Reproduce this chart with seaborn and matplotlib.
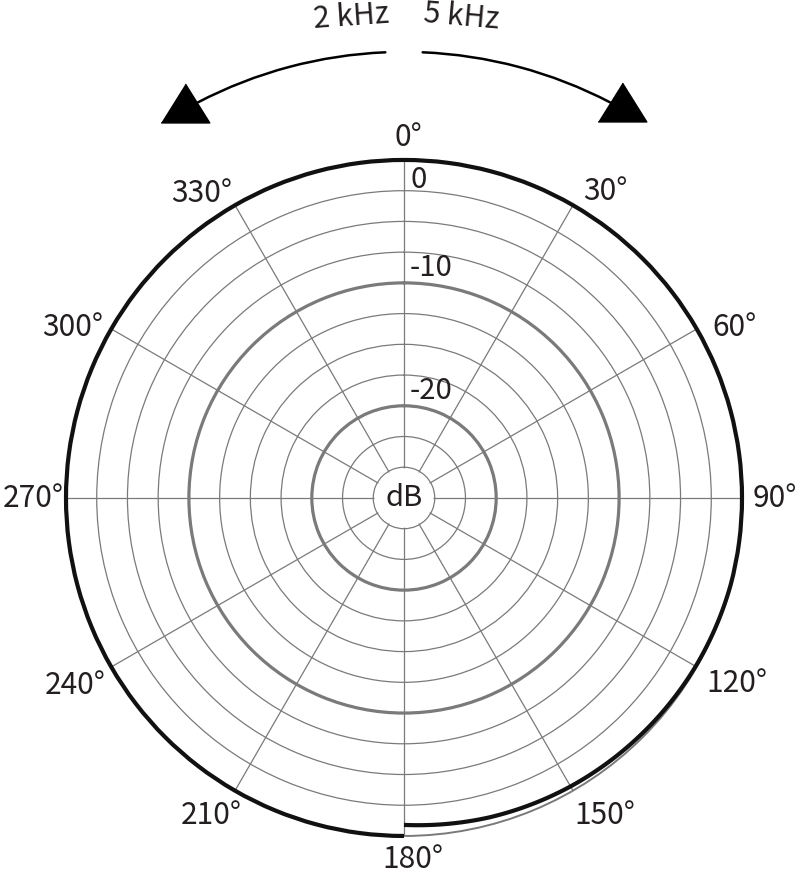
import numpy as np
import pandas as pd
import matplotlib
matplotlib.use("Agg")
import matplotlib.pyplot as plt
import seaborn as sns
from matplotlib.transforms import offset_copy

# Polar response (dB relative to 0 dB)
angles_5k = [0, 15, 30, 45, 60, 75, 90, 105, 120, 135, 150, 165, 180]
level_5k = [0, 0, 0, 0, 0, 0, 0, 0, -0.1, -0.25, -0.4, -0.6, -0.9]
angles_2k = [180, 195, 210, 225, 240, 255, 270, 285, 300, 315, 330, 345, 360]
level_2k = [0, 0, 0, 0, 0, 0, 0, 0, 0, 0, 0, 0, 0]

# grid
ring_levels = [-25, -22.5, -20, -17.5, -15, -12.5, -10, -7.5, -5, -2.5]
bold_rings = [-20, -10]
ring_labels = ["0", "-10", "-20"]
ring_label_r = [-1.6, -8.8, -18.8]
spoke_angles = [0, 30, 60, 90, 120, 150, 180, 210, 240, 270, 300, 330]
angle_labels = ["0°", "30°", "60°", "90°", "120°", "150°",
                "180°", "210°", "240°", "270°", "300°", "330°"]
# label centres in pixels (figure is 800 x 874)
angle_label_px = [(408, 137), (605, 192), (734, 328), (775, 498), (737, 684), (605, 816),
                  (413, 860), (211, 816), (75, 685), (33, 498), (73, 327), (202, 194)]

R_MIN, R_MAX = -27.5, 0
W, H = 800, 874
TXT = "#231f20"
GRID = "#7a7a7a"
FS = 21.5

sns.set_theme(style="white")
plt.rcParams['font.family'] = ['Noto Sans CJK JP', 'DejaVu Sans']

fig = plt.figure(figsize=(W / 100, H / 100), dpi=100)
ax = fig.add_axes([0.0825, 0.0435, 0.845, 0.7735], projection="polar")
ax.set_theta_zero_location("N")
ax.set_theta_direction(-1)

ax.set_thetagrids(spoke_angles, labels=[""] * len(spoke_angles))
ax.set_rgrids(ring_levels, labels=[""] * len(ring_levels))
ax.grid(True, color=GRID, lw=0.9)
ax.set_axisbelow(True)
for tick in ax.yaxis.get_major_ticks():
    if tick.get_loc() in bold_rings:
        tick.gridline.set_linewidth(2.3)
ax.tick_params(length=0)
ax.spines["polar"].set_color(GRID)
ax.spines["polar"].set_linewidth(1.4)

# blank the middle so the spokes stop at the dB circle
ax.bar(0, -25.15 - R_MIN, width=2 * np.pi, bottom=R_MIN, color="white", zorder=1)

df5 = pd.DataFrame({"theta": np.deg2rad(angles_5k), "level": level_5k})
df2 = pd.DataFrame({"theta": np.deg2rad(angles_2k), "level": level_2k})
for df in (df5, df2):
    sns.lineplot(data=df, x="theta", y="level", ax=ax, color="#111111", linewidth=3.0,
                 sort=False, estimator=None, zorder=3)
for line in ax.lines:
    line.set_solid_capstyle("butt")
    line.set_clip_on(False)
ax.set_xlabel("")
ax.set_ylabel("")
ax.set_ylim(R_MIN, R_MAX)

# ring labels and centre label
for lab, r in zip(ring_labels, ring_label_r):
    ax.text(0, r, lab, ha="left", va="center", fontsize=FS - 0.5, color=TXT,
            transform=offset_copy(ax.transData, fig=fig, x=6, y=0, units="dots"))
ax.text(0, R_MIN, "dB", ha="center", va="center", fontsize=FS - 0.5, color=TXT, zorder=4)

for lab, (px, py) in zip(angle_labels, angle_label_px):
    fig.text(px / W, 1 - py / H, lab, ha="center", va="center", fontsize=FS, color=TXT)

# frequency arrows above the plot
r_arc = 8.79
r_head = 9.28
ax.plot(np.deg2rad([-2.4, -27.5]), [r_arc, r_arc], color="black", lw=1.8, clip_on=False)
ax.plot(np.deg2rad([2.4, 27.5]), [r_arc, r_arc], color="black", lw=1.8, clip_on=False)
head = [(-1, -0.8), (1, -0.8), (0, 0.8)]
ax.plot(np.deg2rad([-29.0]), [r_head], marker=head, ms=35, color="black", ls="none", clip_on=False)
ax.plot(np.deg2rad([28.9]), [r_head], marker=head, ms=35, color="black", ls="none", clip_on=False)

# draw constant-radius segments as arcs
for line in ax.lines:
    line.get_path()._interpolation_steps = 90

fig.text(351 / W, 1 - 17 / H, "2 kHz", rotation=4, ha="center", va="center", fontsize=FS, color=TXT)
fig.text(461 / W, 1 - 17 / H, "5 kHz", rotation=-5, ha="center", va="center", fontsize=FS, color=TXT)

fig.savefig("out.png", dpi=100)
